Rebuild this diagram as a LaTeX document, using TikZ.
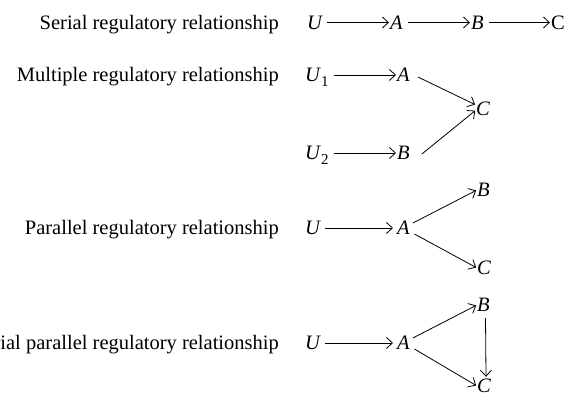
\documentclass[tikz,border=0pt]{standalone}
\usepackage{fontspec}
\setmainfont{Liberation Serif}
\usetikzlibrary{arrows.meta}
\begin{document}
\begin{tikzpicture}[x=1pt,y=1pt,
  lab/.style={anchor=base east, inner sep=0pt, font=\fontsize{20.5}{24}\selectfont},
  var/.style={anchor=base west, inner sep=0pt, text height=14pt, text depth=0pt, font=\fontsize{20.5}{24}\selectfont\itshape},
  arr/.style={-{Straight Barb[length=6pt,width=11pt]}, line width=0.8pt, shorten <=5pt, shorten >=1pt}]
\useasboundingbox (0,0) rectangle (579,399);
\clip (0,0) rectangle (579,399);
% Row 1: serial
\node[lab] (t1) at (279,369.5) {Serial regulatory relationship};
\node[var] (u1) at (307,369.5) {U};
\node[var] (a1) at (390,369.5) {A};
\node[var] (b1) at (471,369.5) {B};
\node[var,font=\fontsize{20.5}{24}\selectfont\upshape] (c1) at (551,369.5) {C};
\draw[arr] (u1) -- (a1);
\draw[arr] (a1) -- (b1);
\draw[arr] (b1) -- (c1);
% Row 2: multiple
\node[lab] (t2) at (279,317) {Multiple regulatory relationship};
\node[var] (u21) at (305,317) {U\kern1pt\raisebox{-5pt}{\upshape\fontsize{15}{15}\selectfont 1}};
\node[var] (a2) at (397,317) {A};
\node[var] (u22) at (305,239) {U\kern1pt\raisebox{-5pt}{\upshape\fontsize{15}{15}\selectfont 2}};
\node[var] (b2) at (397,239) {B};
\node[var] (c2) at (476,283) {C};
\draw[arr] (u21) -- (a2);
\draw[arr] (u22) -- (b2);
\draw[arr, shorten <=0pt] ([shift={(8pt,-2pt)}]a2.east) -- ([shift={(0,4pt)}]c2.west);
\draw[arr, shorten <=0pt] ([shift={(12pt,-1pt)}]b2.east) -- ([shift={(0,-1pt)}]c2.west);
% Row 3: parallel
\node[lab] (t3) at (279,164) {Parallel regulatory relationship};
\node[var] (u3) at (305,164) {U};
\node[var] (a3) at (397,164) {A};
\node[var] (b3) at (477,202) {B};
\node[var] (c3) at (477,124) {C};
\draw[arr, shorten >=4pt] (u3) -- (a3);
\draw[arr, shorten <=0pt] ([shift={(3pt,5pt)}]a3.east) -- (b3.west);
\draw[arr, shorten <=0pt] ([shift={(4.5pt,-6pt)}]a3.east) -- (c3.west);
% Row 4: serial parallel
\node[lab] (t4) at (279,49) {Serial parallel regulatory relationship};
\node[var] (u4) at (305,49) {U};
\node[var] (a4) at (397,49) {A};
\node[var] (b4) at (477,87) {B};
\node[var] (c4) at (477,6) {C};
\draw[arr, shorten >=4pt] (u4) -- (a4);
\draw[arr, shorten <=0pt] ([shift={(3pt,5pt)}]a4.east) -- (b4.west);
\draw[arr, shorten <=0pt] ([shift={(4.5pt,-6pt)}]a4.east) -- (c4.west);
\draw[arr, shorten <=6pt, shorten >=2pt] ([xshift=2pt]b4.south) -- ([xshift=2pt]c4.north);
\end{tikzpicture}
\end{document}
